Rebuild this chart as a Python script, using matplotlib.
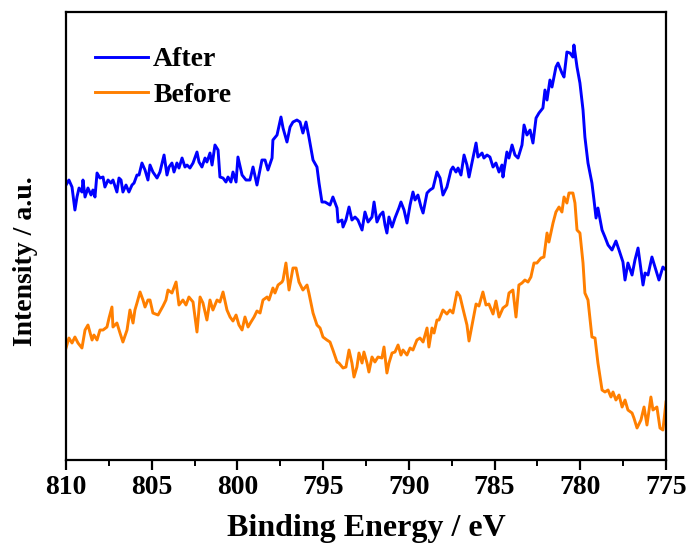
import matplotlib
matplotlib.use("Agg")
import matplotlib.pyplot as plt
from matplotlib.ticker import MultipleLocator

plt.rcParams["font.family"] = ["Liberation Serif", "DejaVu Serif"]
plt.rcParams["font.weight"] = "bold"

# Cu 2p XPS spectra, binding energy (eV) and intensity (a.u.)
after_energy = [
    810.00, 809.83, 809.65, 809.48, 809.36, 809.24, 809.07, 809.01, 808.89, 808.72,
    808.54, 808.43, 808.31, 808.19, 808.02, 807.84, 807.73, 807.55, 807.38, 807.26,
    807.03, 806.91, 806.79, 806.68, 806.50, 806.33, 806.15, 806.03, 805.86, 805.74,
    805.57, 805.39, 805.22, 805.10, 804.93, 804.69, 804.52, 804.28, 804.11, 803.99,
    803.82, 803.70, 803.53, 803.41, 803.23, 803.06, 802.94, 802.77, 802.59, 802.36,
    802.24, 802.07, 801.89, 801.78, 801.60, 801.48, 801.31, 801.13, 801.02, 800.84,
    800.67, 800.55, 800.38, 800.26, 800.08, 799.97, 799.73, 799.50, 799.27, 799.09,
    798.86, 798.57, 798.39, 798.22, 797.98, 797.93, 797.69, 797.46, 797.34, 797.11,
    796.93, 796.76, 796.53, 796.35, 796.18, 796.00, 795.83, 795.59, 795.36, 795.24,
    795.07, 794.89, 794.60, 794.43, 794.19, 794.13, 793.90, 793.84, 793.67, 793.49,
    793.32, 793.14, 792.97, 792.73, 792.56, 792.38, 792.15, 792.03, 791.86, 791.68,
    791.51, 791.39, 791.28, 791.16, 790.98, 790.81, 790.58, 790.46, 790.28, 790.11,
    789.93, 789.76, 789.64, 789.47, 789.29, 789.17, 788.94, 788.77, 788.59, 788.36,
    788.18, 788.01, 787.78, 787.54, 787.43, 787.25, 787.13, 786.96, 786.78, 786.61,
    786.49, 786.32, 786.08, 785.97, 785.73, 785.62, 785.44, 785.27, 785.09, 784.92,
    784.74, 784.57, 784.51, 784.28, 784.16, 783.98, 783.81, 783.63, 783.40, 783.28,
    783.11, 782.93, 782.76, 782.58, 782.41, 782.18, 782.06, 781.94, 781.77, 781.65,
    781.42, 781.30, 781.07, 780.95, 780.78, 780.60, 780.43, 780.37, 780.19, 780.02,
    779.84, 779.73, 779.55, 779.32, 779.20, 779.08, 778.97, 778.73, 778.56, 778.38,
    778.15, 777.92, 777.74, 777.51, 777.39, 777.22, 776.98, 776.81, 776.63, 776.34,
    776.22, 776.05, 775.82, 775.64, 775.41, 775.18, 775.00,
]
after_intensity = [
    275, 280, 273, 250, 263, 272, 268, 280, 263, 272,
    265, 270, 263, 287, 282, 283, 273, 280, 277, 280,
    268, 282, 280, 268, 275, 268, 275, 277, 285, 285,
    297, 290, 280, 295, 288, 282, 288, 305, 285, 293,
    297, 288, 297, 292, 302, 293, 295, 292, 297, 308,
    298, 293, 302, 298, 307, 295, 315, 310, 283, 282,
    278, 283, 278, 288, 278, 303, 285, 280, 280, 293,
    275, 300, 300, 290, 302, 320, 325, 343, 332, 318,
    333, 338, 340, 338, 327, 338, 323, 300, 293, 277,
    258, 258, 255, 263, 252, 238, 240, 233, 240, 253,
    240, 243, 240, 230, 248, 238, 243, 258, 238, 245,
    248, 235, 227, 243, 233, 242, 252, 258, 250, 237,
    255, 268, 260, 265, 253, 247, 267, 270, 272, 288,
    282, 265, 273, 290, 293, 288, 292, 285, 305, 295,
    283, 297, 317, 303, 307, 302, 305, 303, 293, 297,
    288, 295, 283, 308, 302, 315, 305, 302, 315, 335,
    325, 330, 317, 342, 347, 352, 370, 360, 380, 373,
    393, 397, 387, 383, 408, 407, 403, 415, 393, 377,
    350, 323, 297, 277, 260, 242, 252, 230, 223, 215,
    210, 219, 210, 198, 180, 197, 185, 200, 212, 175,
    187, 185, 203, 193, 180, 193, 190,
]

before_energy = [
    810.00, 809.83, 809.65, 809.48, 809.30, 809.07, 808.89, 808.72, 808.48, 808.37,
    808.19, 808.02, 807.84, 807.61, 807.49, 807.32, 807.26, 807.03, 806.85, 806.68,
    806.44, 806.27, 806.09, 805.98, 805.86, 805.68, 805.51, 805.39, 805.22,
    805.10, 804.93, 804.63, 804.34, 804.17, 804.05, 803.82, 803.58, 803.41, 803.18,
    803.00, 802.83, 802.59, 802.36, 802.18, 802.01, 801.78, 801.60, 801.43, 801.19,
    801.02, 800.84, 800.61, 800.43, 800.26, 800.08, 799.91,
    799.73, 799.56, 799.38, 799.21, 799.03, 798.86, 798.68, 798.51, 798.27, 798.16,
    797.93, 797.81, 797.63, 797.40, 797.34, 797.17, 796.99, 796.76, 796.58, 796.41,
    796.18, 795.94, 795.83, 795.59, 795.36, 795.18, 795.01, 794.78,
    794.60, 794.43, 794.19, 794.08, 793.84, 793.67, 793.49, 793.32, 793.20, 793.03,
    792.91, 792.73, 792.62, 792.44, 792.33, 792.15, 791.98, 791.80, 791.57, 791.45,
    791.28, 791.16, 790.98, 790.81, 790.63, 790.46, 790.34, 790.11, 789.93, 789.76,
    789.53,
    789.35, 789.17, 788.94, 788.83, 788.65, 788.53, 788.36, 788.24,
    788.01, 787.78, 787.60, 787.43, 787.19, 787.02, 786.84, 786.61, 786.49, 786.26,
    786.08, 785.91, 785.68, 785.50, 785.33, 785.09, 784.92, 784.74, 784.51, 784.28,
    784.16, 783.93, 783.75, 783.58, 783.40, 783.23, 783.05, 782.88, 782.70, 782.53,
    782.29, 782.12, 781.94, 781.83, 781.59, 781.42, 781.24, 781.07, 780.95, 780.78,
    780.66, 780.43, 780.31, 780.19, 780.02, 779.84, 779.73, 779.55, 779.32, 779.14,
    778.97, 778.73, 778.56, 778.38, 778.21, 778.09, 777.92, 777.74, 777.56, 777.39,
    777.22, 776.98, 776.87, 776.69, 776.46, 776.28, 776.11, 775.88, 775.76, 775.53,
    775.35, 775.18, 775.00,
]
before_intensity = [
    112, 122, 117, 123, 117, 112, 130, 135, 120, 125,
    120, 130, 130, 133, 142, 153, 133, 137, 127, 118,
    130, 150, 137, 150, 157, 168, 160, 153, 160,
    160, 147, 145, 154, 160, 170, 167, 178, 155, 160,
    155, 163, 158, 128, 163, 157, 140, 160, 150, 160,
    158, 168, 150, 143, 139, 145, 135,
    130, 143, 133, 138, 143, 149, 147, 160, 163, 160,
    172, 167, 175, 178, 180, 197, 170, 192, 192, 178,
    170, 175, 167, 147, 135, 132, 123, 120,
    118, 110, 98, 97, 92, 93, 110, 97, 83, 93,
    107, 97, 108, 97, 88, 103, 98, 103, 102, 113,
    87, 97, 107, 108, 115, 105, 110, 105, 112, 110,
    120,
    122, 118, 132, 113, 132, 127, 140, 140,
    150, 146, 150, 147, 168, 164, 151, 135, 119, 140,
    156, 154, 168, 155, 156, 146, 159, 143, 152, 155,
    167, 170, 143, 175, 177, 180, 178, 183, 197, 197,
    202, 203, 227, 218, 237, 248, 253, 248, 263, 257,
    267, 267, 257, 230, 227, 197, 167, 160, 123, 122,
    97, 70, 68, 70, 63, 68, 60, 65, 53, 60,
    50, 47, 42, 32, 40, 53, 35, 63, 50, 53,
    32, 30, 58,
]

series_labels = ["After", "Before"]
series_colors = ["#0000FF", "#FF7F00"]

fig = plt.figure(figsize=(6.89, 5.49), dpi=100)
ax = fig.add_axes([0.0958, 0.1621, 0.8708, 0.8160])

ax.plot(after_energy, after_intensity, color=series_colors[0], lw=2.1, label=series_labels[0])
ax.plot(before_energy, before_intensity, color=series_colors[1], lw=2.1, label=series_labels[1])

ax.set_xlim(810, 775)
ax.set_ylim(0, 448)
ax.xaxis.set_major_locator(MultipleLocator(5))
ax.xaxis.set_minor_locator(MultipleLocator(2.5))
ax.set_yticks([])
ax.tick_params(axis="x", which="major", direction="out", length=7, width=1.6,
               labelsize=20, pad=4, top=False)
ax.tick_params(axis="x", which="minor", direction="out", length=4, width=1.4, top=False)
for lbl in ax.get_xticklabels():
    lbl.set_fontweight("bold")
for sp in ax.spines.values():
    sp.set_linewidth(1.6)

ax.set_xlabel("Binding Energy / eV", fontsize=23, fontweight="bold", labelpad=10)
ax.set_ylabel("Intensity / a.u.", fontsize=20, fontweight="bold")
ax.yaxis.set_label_coords(-0.046, 0.444)

leg = ax.legend(loc="upper left", frameon=False, fontsize=20, handlelength=1.9,
                handletextpad=0.2, labelspacing=0.36, borderpad=0.0,
                borderaxespad=0.0, bbox_to_anchor=(0.048, 0.922))
for t in leg.get_texts():
    t.set_fontweight("bold")

fig.savefig("out.png", dpi=100)
